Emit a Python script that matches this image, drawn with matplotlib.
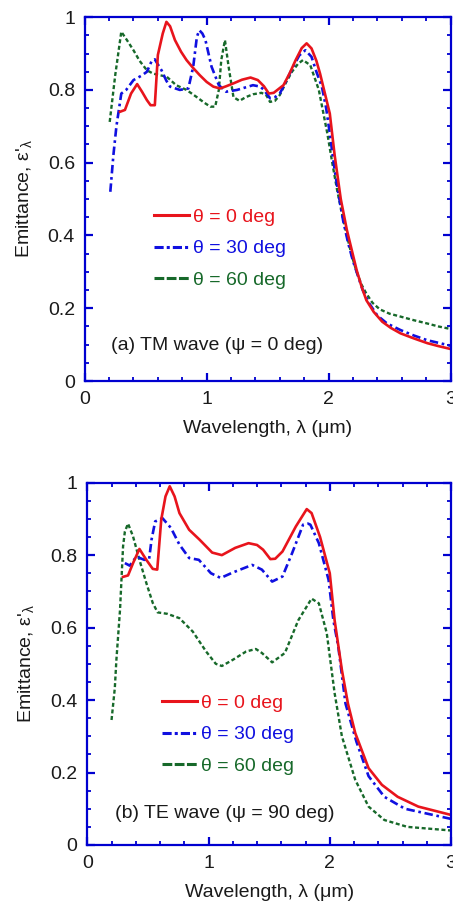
import matplotlib
matplotlib.use("Agg")
import matplotlib.pyplot as plt
from matplotlib.lines import Line2D
from matplotlib.ticker import MultipleLocator, FuncFormatter

plt.rcParams['font.family'] = ['Liberation Sans', 'DejaVu Sans']
plt.rcParams['mathtext.fontset'] = 'custom'
plt.rcParams['mathtext.rm'] = 'Liberation Sans'
plt.rcParams['mathtext.it'] = 'Liberation Sans'
plt.rcParams['mathtext.default'] = 'regular'

# ---------------- data ----------------
# (a) TM wave
tm_wl_0 = [0.29, 0.33, 0.38, 0.43, 0.47, 0.51, 0.54, 0.575, 0.60, 0.64, 0.67, 0.70, 0.74, 0.79,
           0.835, 0.89, 0.945, 1.0, 1.055, 1.11, 1.16, 1.22, 1.29, 1.36, 1.42, 1.47, 1.51, 1.55,
           1.63, 1.68, 1.73, 1.78, 1.82, 1.86, 1.90, 1.93, 1.97, 2.01, 2.05, 2.10, 2.15, 2.19,
           2.23, 2.27, 2.31, 2.37, 2.44, 2.51, 2.59, 2.70, 2.81, 2.90, 3.0]
tm_e_0 = [0.74, 0.745, 0.79, 0.816, 0.795, 0.772, 0.758, 0.758, 0.896, 0.955, 0.987, 0.975, 0.937,
          0.905, 0.882, 0.86, 0.84, 0.822, 0.809, 0.804, 0.81, 0.818, 0.828, 0.834, 0.827, 0.81,
          0.79, 0.792, 0.813, 0.845, 0.882, 0.915, 0.928, 0.914, 0.88, 0.845, 0.79, 0.735, 0.62,
          0.50, 0.415, 0.36, 0.305, 0.26, 0.222, 0.19, 0.163, 0.146, 0.131, 0.117, 0.104, 0.096, 0.088]

tm_wl_30 = [0.21, 0.235, 0.26, 0.30, 0.34, 0.40, 0.47, 0.51, 0.55, 0.575, 0.60, 0.63, 0.67, 0.70,
            0.78, 0.85, 0.89, 0.92, 0.94, 0.965, 0.99, 1.04, 1.10, 1.16, 1.25, 1.38, 1.44, 1.47,
            1.52, 1.56, 1.60, 1.66, 1.71, 1.76, 1.81, 1.86, 1.90, 1.945, 1.98, 2.01, 2.05, 2.08,
            2.12, 2.16, 2.20, 2.24, 2.28, 2.33, 2.40, 2.48, 2.59, 2.70, 2.81, 2.90, 3.0]
tm_e_30 = [0.52, 0.62, 0.70, 0.79, 0.80, 0.827, 0.84, 0.85, 0.88, 0.884, 0.87, 0.854, 0.825, 0.809,
           0.80, 0.804, 0.864, 0.946, 0.964, 0.955, 0.937, 0.864, 0.813, 0.795, 0.80, 0.813, 0.809,
           0.80, 0.777, 0.78, 0.79, 0.83, 0.864, 0.895, 0.909, 0.891, 0.85, 0.809, 0.75, 0.68, 0.58,
           0.516, 0.44, 0.38, 0.33, 0.29, 0.25, 0.215, 0.18, 0.158, 0.14, 0.125, 0.112, 0.105, 0.097]

tm_wl_60 = [0.205, 0.25, 0.30, 0.35, 0.40, 0.45, 0.51, 0.56, 0.62, 0.67, 0.75, 0.835, 0.92, 0.98,
            1.03, 1.07, 1.10, 1.12, 1.15, 1.18, 1.22, 1.27, 1.32, 1.38, 1.45, 1.49, 1.52, 1.56,
            1.60, 1.65, 1.70, 1.75, 1.79, 1.85, 1.92, 1.99, 2.03, 2.07, 2.11, 2.15, 2.19, 2.23,
            2.27, 2.31, 2.36, 2.42, 2.50, 2.59, 2.70, 2.81, 2.90, 3.0]
tm_e_60 = [0.712, 0.84, 0.96, 0.935, 0.909, 0.88, 0.854, 0.845, 0.84, 0.837, 0.813, 0.80, 0.78,
           0.765, 0.754, 0.754, 0.80, 0.882, 0.937, 0.864, 0.78, 0.77, 0.78, 0.788, 0.792, 0.785,
           0.767, 0.77, 0.786, 0.82, 0.85, 0.872, 0.882, 0.868, 0.80, 0.68, 0.60, 0.525, 0.46,
           0.40, 0.345, 0.30, 0.265, 0.24, 0.215, 0.197, 0.185, 0.177, 0.167, 0.158, 0.15, 0.143]

# (b) TE wave
te_wl_0 = [0.295, 0.336, 0.38, 0.43, 0.487, 0.54, 0.577, 0.61, 0.645, 0.68, 0.72, 0.76, 0.84,
           0.925, 1.03, 1.11, 1.22, 1.33, 1.40, 1.45, 1.51, 1.55, 1.61, 1.72, 1.81, 1.85, 1.92,
           2.00, 2.04, 2.10, 2.15, 2.21, 2.32, 2.43, 2.56, 2.73, 3.0]
te_e_0 = [0.74, 0.744, 0.78, 0.817, 0.787, 0.762, 0.76, 0.898, 0.962, 0.99, 0.962, 0.916, 0.87,
          0.843, 0.807, 0.80, 0.82, 0.833, 0.828, 0.815, 0.789, 0.79, 0.81, 0.879, 0.927, 0.916,
          0.85, 0.75, 0.62, 0.483, 0.39, 0.309, 0.212, 0.166, 0.133, 0.106, 0.083]

te_wl_30 = [0.31, 0.35, 0.405, 0.47, 0.51, 0.53, 0.56, 0.62, 0.69, 0.76, 0.84, 0.92, 1.02, 1.10,
            1.20, 1.36, 1.44, 1.525, 1.61, 1.69, 1.78, 1.82, 1.84, 1.91, 1.99, 2.03, 2.07, 2.13,
            2.22, 2.32, 2.45, 2.62, 3.0]
te_e_30 = [0.778, 0.771, 0.796, 0.787, 0.789, 0.843, 0.893, 0.902, 0.875, 0.829, 0.792, 0.787,
           0.75, 0.737, 0.752, 0.773, 0.76, 0.727, 0.741, 0.806, 0.884, 0.887, 0.884, 0.833,
           0.732, 0.62, 0.548, 0.39, 0.285, 0.19, 0.133, 0.10, 0.072]

te_wl_60 = [0.20, 0.227, 0.24, 0.27, 0.295, 0.31, 0.336, 0.377, 0.43, 0.487, 0.54, 0.58, 0.66,
            0.76, 0.87, 0.98, 1.06, 1.11, 1.20, 1.31, 1.39, 1.44, 1.525, 1.63, 1.74, 1.85, 1.91,
            1.975, 2.04, 2.10, 2.21, 2.32, 2.45, 2.64, 3.0]
te_e_60 = [0.345, 0.433, 0.511, 0.649, 0.824, 0.865, 0.887, 0.852, 0.787, 0.723, 0.668, 0.642,
           0.638, 0.626, 0.589, 0.534, 0.50, 0.494, 0.511, 0.534, 0.541, 0.53, 0.504, 0.53, 0.62,
           0.68, 0.667, 0.585, 0.419, 0.30, 0.18, 0.106, 0.069, 0.05, 0.04]

legend_labels = ["θ = 0 deg", "θ = 30 deg", "θ = 60 deg"]
panel_titles = ["(a) TM wave (ψ = 0 deg)", "(b) TE wave (ψ = 90 deg)"]
x_label = "Wavelength, λ (μm)"
y_label = r"Emittance, ε'$_{\lambda}$"

# ---------------- style ----------------
RED = '#e8141c'
BLUE = '#1010e0'
GREEN = '#17692a'
AXC = '#0000d0'
TXT = '#1a1a1a'
FS = 14

styles = [
    dict(color=RED, lw=1.9, ls='-'),
    dict(color=BLUE, lw=1.9, ls=(0, (3.2, 1.4, 1.0, 1.4))),
    dict(color=GREEN, lw=1.7, ls=(0, (1.7, 1.1))),
]
leg_styles = [
    dict(color=RED, lw=2.2, ls='-'),
    dict(color=BLUE, lw=2.2, ls=(0, (3.0, 1.0, 1.0, 1.0))),
    dict(color=GREEN, lw=2.2, ls=(0, (3.2, 0.8))),
]

fig = plt.figure(figsize=(4.53, 9.02), dpi=100)
ax1 = fig.add_axes([0.187, 0.5776, 0.8075, 0.4034])
ax2 = fig.add_axes([0.1927, 0.0632, 0.8029, 0.4017])

datasets = [
    [(tm_wl_0, tm_e_0), (tm_wl_30, tm_e_30), (tm_wl_60, tm_e_60)],
    [(te_wl_0, te_e_0), (te_wl_30, te_e_30), (te_wl_60, te_e_60)],
]
leg_anchor = [(0.19, 0.474), (0.205, 0.415)]
title_pos = [(0.071, 0.097), (0.076, 0.088)]

fmt = FuncFormatter(lambda v, p: ('%g' % round(v, 3)))

for ax, data, anc, tpos, ttl in zip([ax1, ax2], datasets, leg_anchor, title_pos, panel_titles):
    # draw in reverse so red is on top
    for (wl, e), st in reversed(list(zip(data, styles))):
        ax.plot(wl, e, color=st['color'], lw=st['lw'], linestyle=st['ls'])
    ax.set_xlim(0, 3)
    ax.set_ylim(0, 1)
    ax.xaxis.set_major_locator(MultipleLocator(1))
    ax.xaxis.set_minor_locator(MultipleLocator(0.2))
    ax.yaxis.set_major_locator(MultipleLocator(0.2))
    ax.yaxis.set_minor_locator(MultipleLocator(0.05))
    ax.xaxis.set_major_formatter(fmt)
    ax.yaxis.set_major_formatter(fmt)
    for s in ax.spines.values():
        s.set_color(AXC)
        s.set_linewidth(1.6)
    ax.tick_params(which='both', direction='in', top=True, right=True, color=AXC,
                   labelsize=FS, labelcolor=TXT)
    ax.tick_params(which='major', length=6, width=1.6)
    ax.tick_params(which='minor', length=3, width=1.3)
    ax.tick_params(axis='y', which='major', pad=7)
    ax.tick_params(axis='x', which='major', pad=7)
    ax.set_xlabel(x_label, fontsize=FS, color=TXT, labelpad=9)
    ax.set_ylabel(y_label, fontsize=FS, color=TXT, labelpad=10)
    handles = [Line2D([], [], color=st['color'], lw=st['lw'], linestyle=st['ls'])
               for st in leg_styles]
    ax.legend(handles, legend_labels, loc='upper left', bbox_to_anchor=anc, frameon=False,
              fontsize=FS, handlelength=1.8, handletextpad=0.2, labelspacing=0.7,
              borderpad=0, borderaxespad=0, labelcolor='linecolor')
    ax.text(tpos[0], tpos[1], ttl, transform=ax.transAxes, fontsize=FS, color=TXT,
            ha='left', va='center')

fig.savefig('out.png', dpi=100)
